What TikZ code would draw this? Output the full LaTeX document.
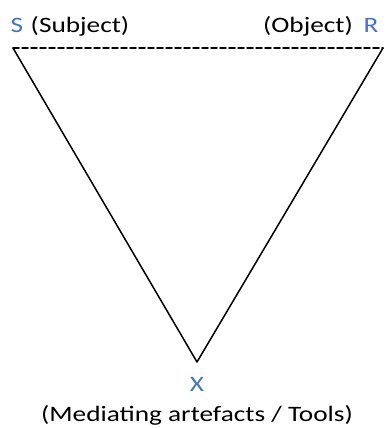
\documentclass[tikz,border=0pt]{standalone}
\usepackage{fontspec}
\setmainfont{Carlito}
\usepackage{tkz-euclide}
\definecolor{VertexClr}{HTML}{4472C4}

\begin{document}
\begin{tikzpicture}[x=1pt,y=1pt,
  lbl/.style={font=\fontsize{22}{24}\selectfont,xscale=1.24,anchor=base,inner sep=0pt},
  vlbl/.style={lbl,text=VertexClr}]
\useasboundingbox (0,0) rectangle (386,428);
\tkzSetUpLine[line width=1.5pt,color=black]

\tkzDefPoints{13/380/S,383/380/R,197/66/X}

\tkzDrawSegments(S,X X,R)
\tkzDrawSegment[dash pattern=on 6pt off 3pt](S,R)

\node[vlbl] (lblS) at (17,395) {S};
\node[vlbl] (lblR) at (371,395) {R};
\node[vlbl] (lblX) at (197,36) {X};
\node[lbl] (subj) at (80,395) {(Subject)};
\node[lbl] (obj) at (308,395) {(Object)};
\node[lbl] (tools) at (197,6) {(Mediating artefacts / Tools)};

\end{tikzpicture}
\end{document}
